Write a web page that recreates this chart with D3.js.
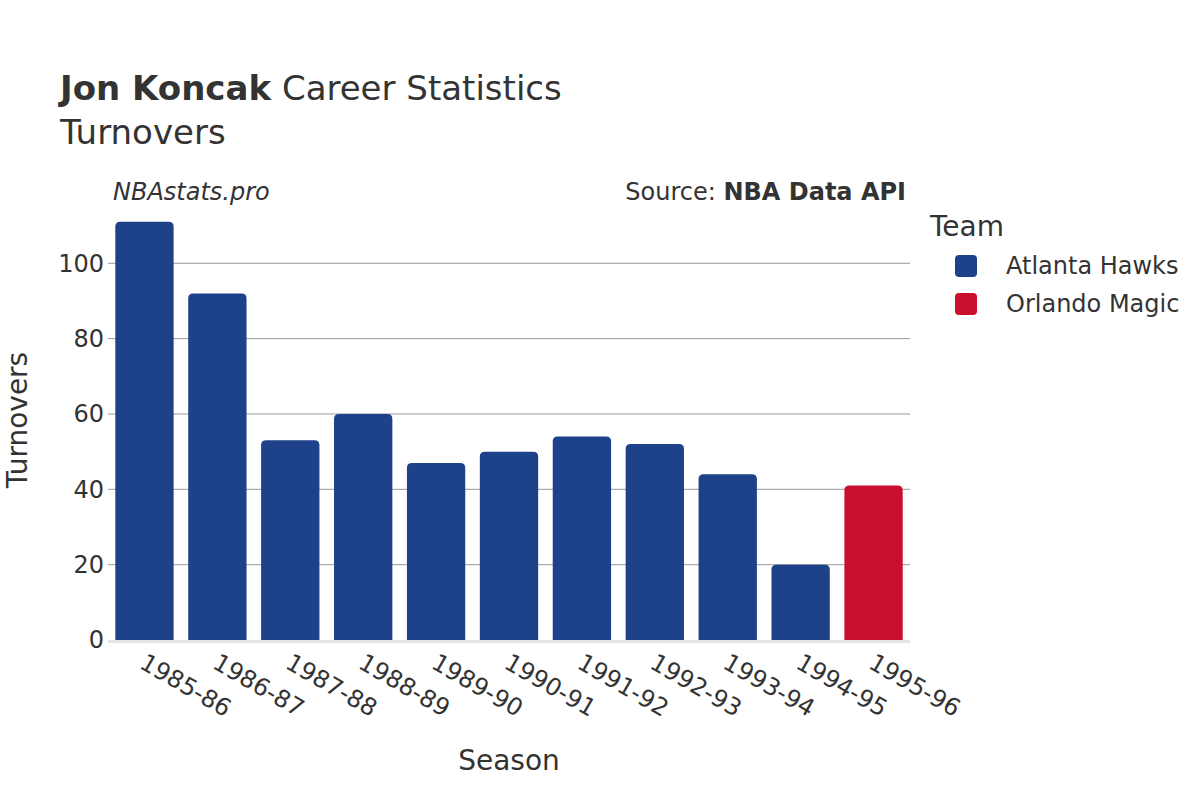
<!DOCTYPE html>
<html>
<head>
<meta charset="utf-8">
<script src="https://cdn.jsdelivr.net/npm/d3@7"></script>
<style>
  body { margin: 0; background: #fff; }
  text { font-family: "DejaVu Sans", sans-serif; fill: #333; }
</style>
</head>
<body>
<svg id="chart" width="1200" height="800"></svg>
<script>
var seasons = ["1985-86", "1986-87", "1987-88", "1988-89", "1989-90", "1990-91",
               "1991-92", "1992-93", "1993-94", "1994-95", "1995-96"];
var turnovers = [111, 92, 53, 60, 47, 50, 54, 52, 44, 20, 41];
var teams = ["Atlanta Hawks", "Atlanta Hawks", "Atlanta Hawks", "Atlanta Hawks", "Atlanta Hawks",
             "Atlanta Hawks", "Atlanta Hawks", "Atlanta Hawks", "Atlanta Hawks", "Atlanta Hawks",
             "Orlando Magic"];
var teamNames = ["Atlanta Hawks", "Orlando Magic"];
var teamColors = ["#1d428a", "#c8102e"];
var yTicks = [0, 20, 40, 60, 80, 100];

var svg = d3.select("#chart");
var plotLeft = 108, plotRight = 910, plotTop = 200, plotBottom = 640;

var x = d3.scaleBand().domain(seasons).range([plotLeft, plotRight]).paddingInner(0.2).paddingOuter(0.1);
var y = d3.scaleLinear().domain([0, 116.8]).range([plotBottom, plotTop]);
var color = d3.scaleOrdinal().domain(teamNames).range(teamColors);

// gridlines
svg.append("g").selectAll("line")
    .data(yTicks.filter(function(d) { return d > 0; }))
    .enter().append("line")
    .attr("x1", plotLeft).attr("x2", plotRight)
    .attr("y1", function(d) { return y(d); }).attr("y2", function(d) { return y(d); })
    .attr("stroke", "#999").attr("stroke-width", 1);

// y tick labels
svg.append("g").selectAll("text")
    .data(yTicks)
    .enter().append("text")
    .attr("x", plotLeft - 4).attr("y", function(d) { return y(d); })
    .attr("dy", "0.35em")
    .attr("text-anchor", "end")
    .style("font-size", "24px")
    .text(function(d) { return d; });

// bars with rounded tops
var r = 5;
svg.append("g").selectAll("path")
    .data(seasons)
    .enter().append("path")
    .attr("d", function(d, i) {
        var x0 = x(d), w = x.bandwidth(), y0 = y(turnovers[i]), yb = y(0);
        return "M" + x0 + "," + yb +
            "V" + (y0 + r) +
            "Q" + x0 + "," + y0 + " " + (x0 + r) + "," + y0 +
            "H" + (x0 + w - r) +
            "Q" + (x0 + w) + "," + y0 + " " + (x0 + w) + "," + (y0 + r) +
            "V" + yb + "Z";
    })
    .attr("fill", function(d, i) { return color(teams[i]); });

// zero line
svg.append("line")
    .attr("x1", plotLeft).attr("x2", plotRight)
    .attr("y1", y(0) + 1.5).attr("y2", y(0) + 1.5)
    .attr("stroke", "#e5e5e5").attr("stroke-width", 3);

// x tick labels
svg.append("g").selectAll("text")
    .data(seasons)
    .enter().append("text")
    .attr("transform", function(d) {
        return "translate(" + (x(d) + x.bandwidth() / 2 - 2) + "," + (plotBottom + 20) + ") rotate(30)";
    })
    .attr("dy", "0.35em")
    .style("font-size", "24px")
    .text(function(d) { return d; });

// titles
var t = svg.append("text").attr("x", 60).attr("y", 100).style("font-size", "34px");
t.append("tspan").style("font-weight", "bold").text("Jon Koncak");
t.append("tspan").text(" Career Statistics");
svg.append("text").attr("x", 60).attr("y", 144).style("font-size", "34px").text("Turnovers");

svg.append("text").attr("x", 113).attr("y", 200)
    .style("font-size", "24px").style("font-style", "italic").text("NBAstats.pro");
var s = svg.append("text").attr("x", 906).attr("y", 200).attr("text-anchor", "end").style("font-size", "24px");
s.append("tspan").text("Source: ");
s.append("tspan").style("font-weight", "bold").text("NBA Data API");

// axis titles
svg.append("text").attr("x", (plotLeft + plotRight) / 2).attr("y", 770)
    .attr("text-anchor", "middle").style("font-size", "28px").text("Season");
svg.append("text").attr("transform", "translate(27," + ((plotTop + plotBottom) / 2) + ") rotate(-90)")
    .attr("text-anchor", "middle").style("font-size", "28px").text("Turnovers");

// legend
svg.append("text").attr("x", 930).attr("y", 236).style("font-size", "28px").text("Team");
var lg = svg.append("g").selectAll("g")
    .data(teamNames)
    .enter().append("g")
    .attr("transform", function(d, i) { return "translate(955," + (266 + i * 38) + ")"; });
lg.append("rect")
    .attr("x", 0).attr("y", -11).attr("width", 22).attr("height", 22).attr("rx", 4)
    .attr("fill", function(d) { return color(d); });
lg.append("text").attr("x", 51).attr("dy", "0.35em").style("font-size", "24px")
    .text(function(d) { return d; });
</script>
</body>
</html>
